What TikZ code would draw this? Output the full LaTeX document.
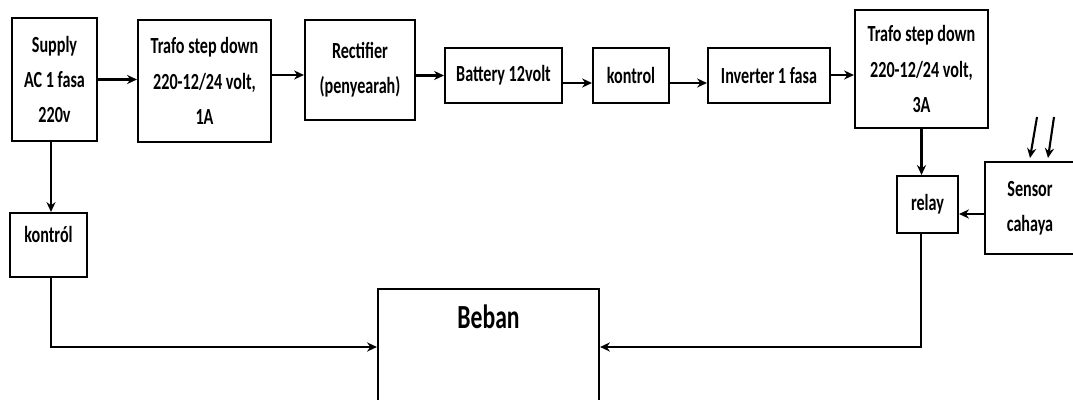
\documentclass[tikz,border=0pt]{standalone}
\usepackage{fontspec}
\setmainfont{Carlito}[FakeStretch=0.7]
\usepackage{tikz}
\usetikzlibrary{arrows.meta,calc,positioning}

\begin{document}
\begin{tikzpicture}[>={Stealth[length=7pt,width=6.5pt]},x=0.025cm,y=-0.025cm,
		blok/.style={draw,line width=1.5pt,align=center,inner sep=2pt,
			font=\fontsize{16.4}{25}\selectfont\bfseries},
		panah/.style={->,line width=1.5pt}]
		
		% Frame of the picture
		\path[use as bounding box,clip] (0,0) rectangle (1073,400);
		
		% Top row
		\node[blok,minimum width=2.125cm,minimum height=3.075cm] (supply) at (54.5,79.5) {Supply\\AC 1 fasa\\220v};
		\node[blok,minimum width=3.325cm,minimum height=3.05cm] (trafoA) at (204.5,81) {Trafo step down\\220-12/24 volt,\\1A};
		\node[blok,minimum width=2.75cm,minimum height=2.5cm] (rect) at (360,70) {Rectifier\\(penyearah)};
		\node[blok,minimum width=2.925cm,minimum height=1.375cm] (battery) at (503.5,75.5) {Battery 12volt};
		\node[blok,minimum width=1.9cm,minimum height=1.375cm] (kontrolA) at (631,75.5) {kontrol};
		\node[blok,minimum width=3.05cm,minimum height=1.375cm] (inverter) at (769,75.5) {Inverter 1 fasa};
		\node[blok,minimum width=3.325cm,minimum height=2.95cm] (trafoB) at (921.5,69) {Trafo step down\\220-12/24 volt,\\3A};
		
		% Right side
		\node[blok,minimum width=1.525cm,minimum height=1.425cm] (relay) at (927.5,204.5) {relay};
		\node[blok,minimum width=2.25cm,minimum height=2.3cm] (sensor) at (1030,208) {Sensor\\cahaya};
		\coordinate (sinarA) at (1037,117);
		\coordinate (sinarB) at (1054,117);
		\coordinate (jatuhA) at (1030,158);
		\coordinate (jatuhB) at (1048,158);
		
		% Left side and load
		\node[blok,minimum width=1.925cm,minimum height=1.6cm,text depth=15pt] (kontrolB) at (48.5,245) {kontról};
		\node[draw,line width=1.5pt,minimum width=5.525cm,minimum height=2.9cm,
			label={[font=\fontsize{24}{28}\selectfont\bfseries,inner sep=0pt,anchor=north,yshift=-12pt]north:Beban}]
			(beban) at (488.5,347) {};
		
		% Arrows along the top
		\draw[panah] (supply.east) -- (supply.east -| trafoA.west);
		\draw[panah] (trafoA.east |- 0,75) -- (rect.west |- 0,75);
		\draw[panah] (rect.east |- battery.west) -- (battery.west);
		\draw[panah] (battery.east |- 0,83) -- (kontrolA.west |- 0,83);
		\draw[panah] (kontrolA.east |- 0,83) -- (inverter.west |- 0,83);
		\draw[panah] (inverter.east |- 0,75) -- (trafoB.west |- 0,75);
		
		% Relay branch
		\draw[panah] (trafoB.south) -- (trafoB.south |- relay.north);
		\draw[panah] (sensor.west |- 0,214) -- (relay.east |- 0,214);
		\draw[panah] (sinarA) -- (jatuhA);
		\draw[panah] (sinarB) -- (jatuhB);
		\draw[panah] (relay.south -| 921,0) |- (beban.east);
		
		% Kontrol branch
		\draw[panah] (supply.south -| 51,0) -- (kontrolB.north -| 51,0);
		\draw[panah] (kontrolB.south -| 51,0) |- (beban.west);
		
	\end{tikzpicture}
\end{document}
